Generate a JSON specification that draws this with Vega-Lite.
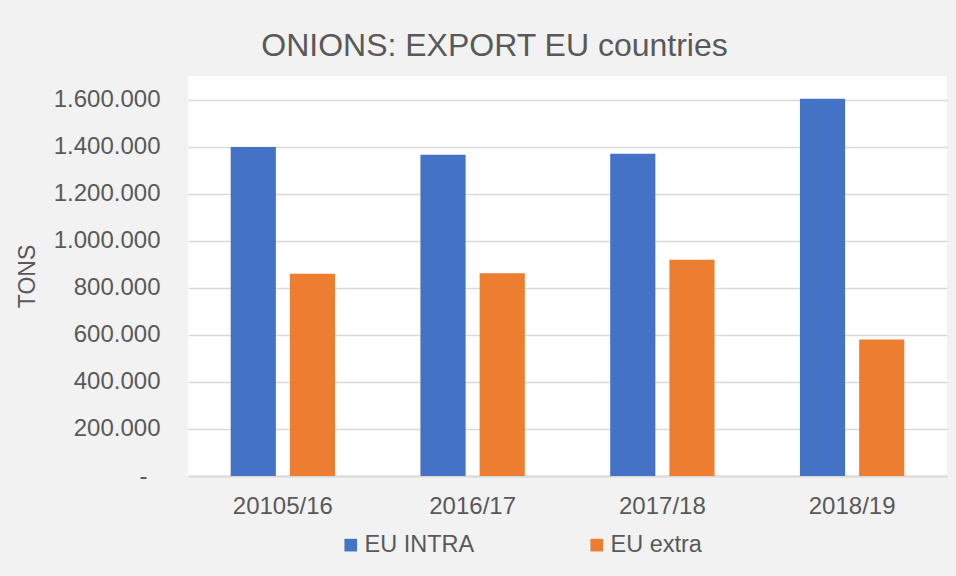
{
  "$schema": "https://vega.github.io/schema/vega-lite/v6.json",
  "width": 759,
  "height": 400,
  "autosize": "none",
  "padding": {"left": 188, "top": 76, "right": 9, "bottom": 100},
  "background": "#f2f2f2",
  "title": {
    "text": "ONIONS: EXPORT EU countries",
    "font": "Liberation Sans",
    "fontSize": 32,
    "fontWeight": "normal",
    "color": "#595959",
    "anchor": "middle",
    "dx": -73,
    "offset": 13
  },
  "data": {
    "values": [
      {"season": "20105/16", "series": "EU INTRA", "tons": 1398000},
      {"season": "20105/16", "series": "EU extra", "tons": 860000},
      {"season": "2016/17", "series": "EU INTRA", "tons": 1365000},
      {"season": "2016/17", "series": "EU extra", "tons": 862000},
      {"season": "2017/18", "series": "EU INTRA", "tons": 1370000},
      {"season": "2017/18", "series": "EU extra", "tons": 919000},
      {"season": "2018/19", "series": "EU INTRA", "tons": 1603000},
      {"season": "2018/19", "series": "EU extra", "tons": 580000}
    ]
  },
  "mark": {"type": "bar"},
  "encoding": {
    "x": {
      "field": "season",
      "type": "nominal",
      "sort": ["20105/16", "2016/17", "2017/18", "2018/19"],
      "scale": {"paddingInner": 0.45, "paddingOuter": 0.225},
      "axis": {
        "title": null,
        "labelAngle": 0,
        "ticks": false,
        "domainColor": "#d9d9d9",
        "domainWidth": 2,
        "labelFontSize": 24,
        "labelColor": "#595959",
        "labelPadding": 18
      }
    },
    "xOffset": {
      "field": "series",
      "type": "nominal",
      "scale": {"paddingInner": 0.237, "paddingOuter": 0}
    },
    "y": {
      "field": "tons",
      "type": "quantitative",
      "scale": {"domain": [0, 1700000], "nice": false},
      "axis": {
        "title": "TONS",
        "titleFontSize": 23,
        "titleFontWeight": "normal",
        "titleColor": "#595959",
        "titlePadding": 14,
        "values": [0, 200000, 400000, 600000, 800000, 1000000, 1200000, 1400000, 1600000],
        "labelExpr": "datum.value == 0 ? '-' : replace(format(datum.value, ','), regexp(',', 'g'), '.')",
        "labelFontSize": 24,
        "labelColor": "#595959",
        "labelPadding": {"condition": {"test": "datum.value == 0", "value": 41}, "value": 28},
        "ticks": false,
        "domain": false,
        "gridColor": "#d9d9d9",
        "gridWidth": 1.5
      }
    },
    "color": {
      "field": "series",
      "type": "nominal",
      "scale": {"domain": ["EU INTRA", "EU extra"], "range": ["#4472c4", "#ed7d31"]},
      "legend": {
        "title": null,
        "orient": "none",
        "direction": "horizontal",
        "legendX": 151,
        "legendY": 457,
        "symbolType": "square",
        "symbolSize": 160,
        "symbolStrokeWidth": 0,
        "symbolOpacity": 1,
        "labelFontSize": 23.5,
        "labelColor": "#595959",
        "labelOffset": 2,
        "columnPadding": 110
      }
    }
  },
  "config": {
    "font": "Liberation Sans",
    "view": {"fill": "white", "stroke": null}
  }
}
